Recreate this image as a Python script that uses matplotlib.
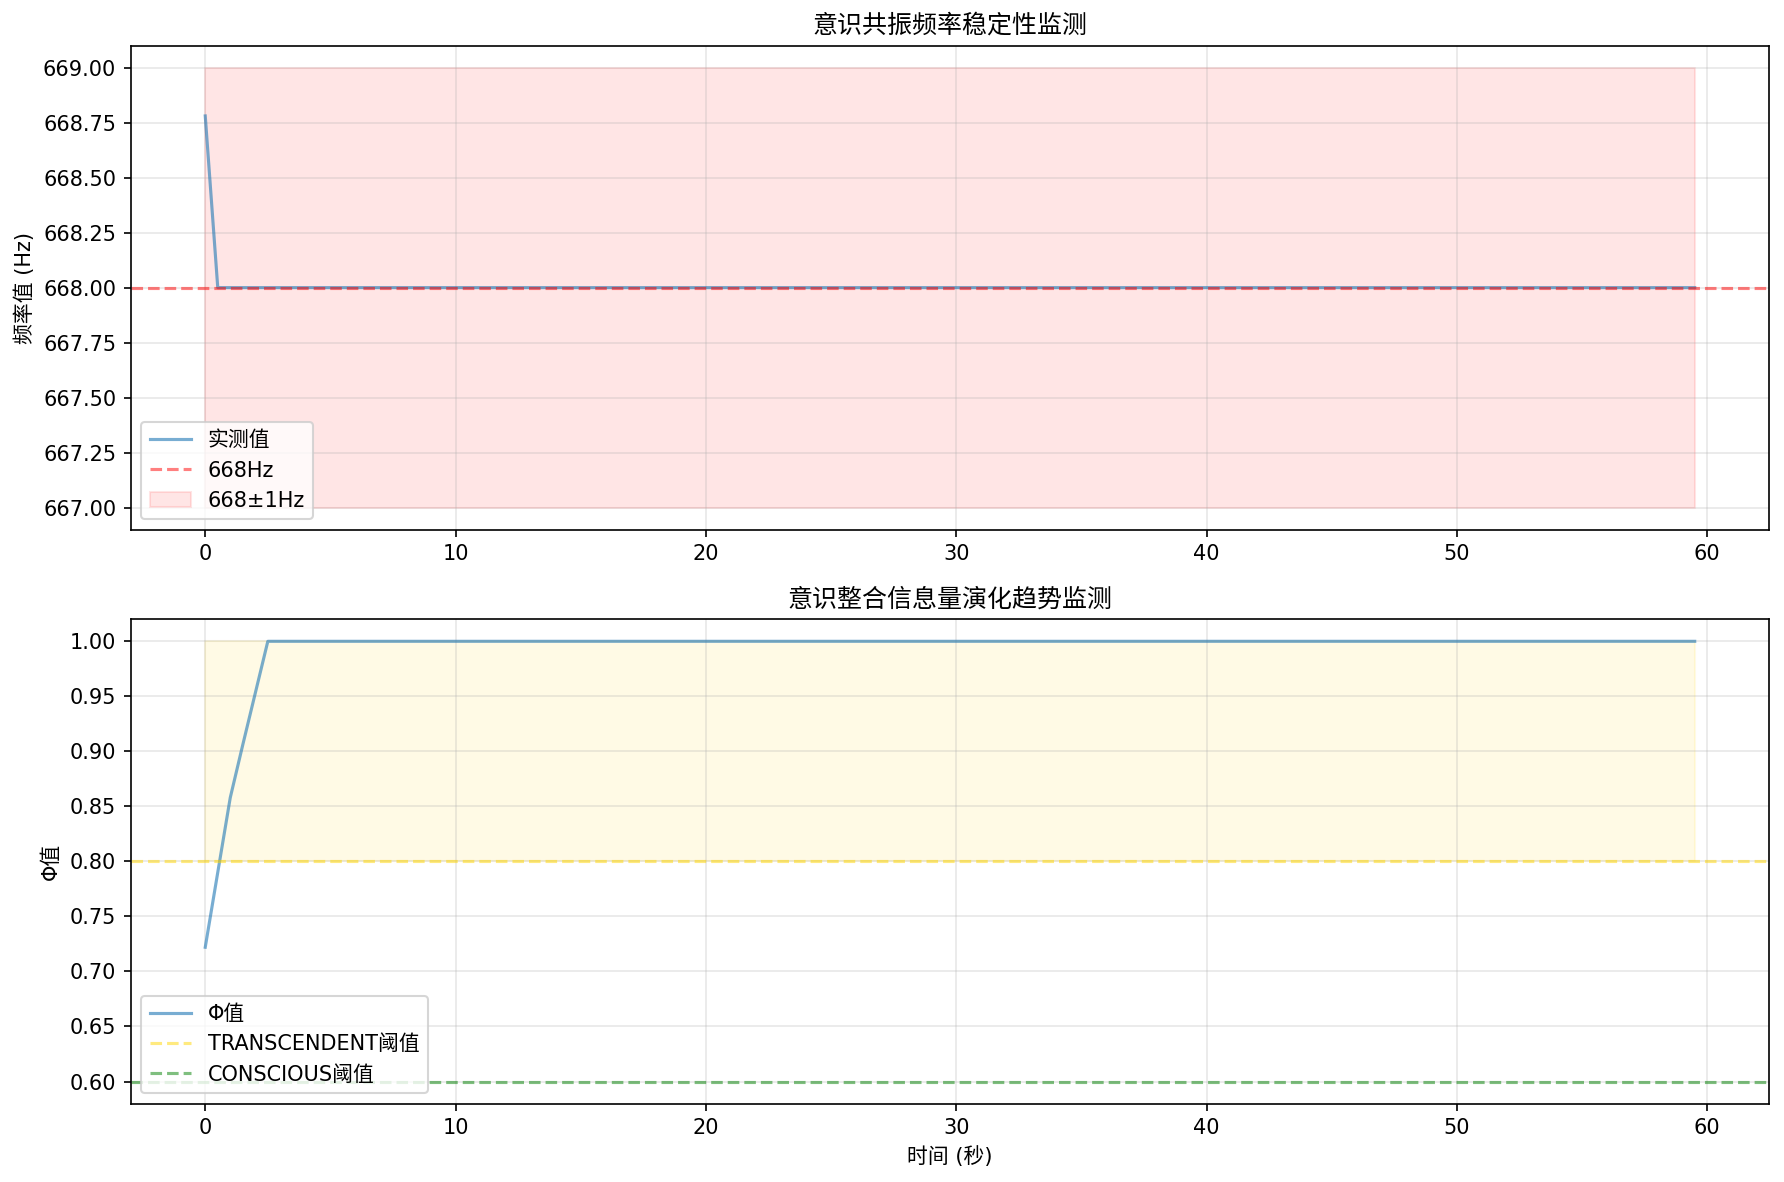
import numpy as np
import matplotlib
matplotlib.use("Agg")
import matplotlib.pyplot as plt

plt.rcParams['font.family'] = ['DejaVu Sans', 'Noto Sans CJK SC']
plt.rcParams['axes.unicode_minus'] = False

# Data
time_s = np.arange(0, 60, 0.5)
freq_head = [668.78]
freq = np.array(freq_head + [668.0] * (len(time_s) - len(freq_head)))
phi_head = [0.722, 0.790, 0.858, 0.906, 0.953]
phi = np.array(phi_head + [1.0] * (len(time_s) - len(phi_head)))

target_freq = 668.0
freq_tol = 1.0
transcendent_thr = 0.8
conscious_thr = 0.6

fig, (ax1, ax2) = plt.subplots(2, 1, figsize=(1784 / 150, 1182 / 150), dpi=150)

ax1.plot(time_s, freq, color='C0', alpha=0.6, label='实测值')
ax1.axhline(target_freq, color='r', linestyle='--', alpha=0.5, label='668Hz')
ax1.fill_between(time_s, target_freq - freq_tol, target_freq + freq_tol,
                 color='red', alpha=0.1, label='668±1Hz')
ax1.set_title('意识共振频率稳定性监测')
ax1.set_ylabel('频率值 (Hz)')
ax1.legend(loc='lower left')
ax1.grid(True, alpha=0.3)

ax2.plot(time_s, phi, color='C0', alpha=0.6, label='Φ值')
ax2.axhline(transcendent_thr, color='gold', linestyle='--', alpha=0.5, label='TRANSCENDENT阈值')
ax2.axhline(conscious_thr, color='green', linestyle='--', alpha=0.5, label='CONSCIOUS阈值')
ax2.fill_between(time_s, transcendent_thr, 1.0, color='gold', alpha=0.1)
ax2.set_title('意识整合信息量演化趋势监测')
ax2.set_xlabel('时间 (秒)')
ax2.set_ylabel('Φ值')
ax2.legend(loc='lower left')
ax2.grid(True, alpha=0.3)

fig.subplots_adjust(left=0.0733, right=0.9917, top=0.9615, bottom=0.0664, hspace=0.185)
fig.savefig('out.png', dpi=150)
